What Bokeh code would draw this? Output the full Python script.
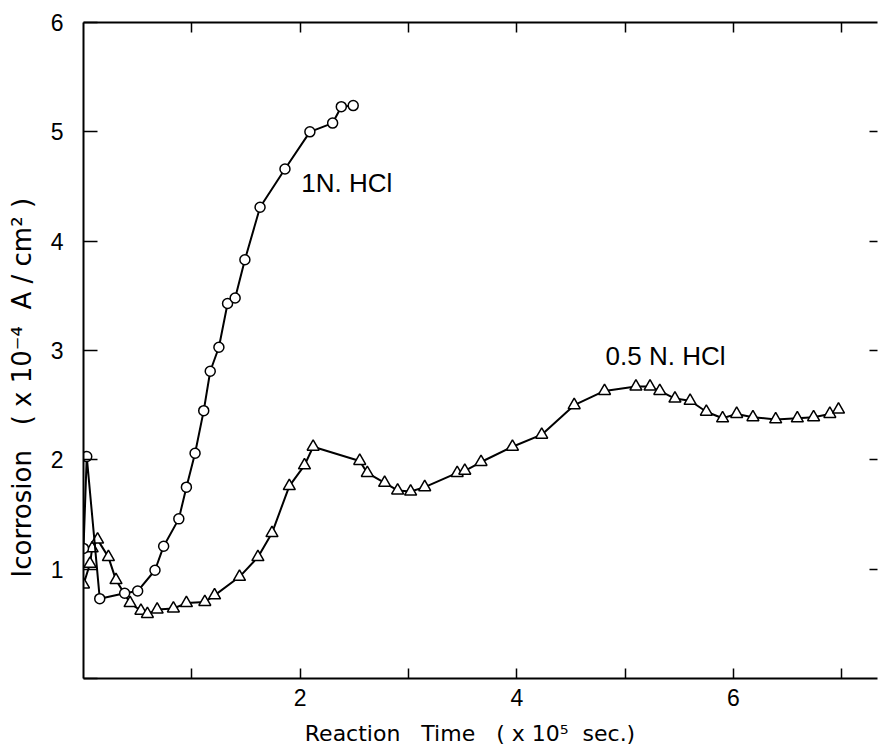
from bokeh.plotting import figure
from bokeh.models import LinearAxis, FixedTicker, Label, Range1d, ColumnDataSource
from bokeh.embed import file_html
from bokeh.resources import INLINE

# 1N. HCl (circles)
time_1n = [0.0, 0.03, 0.15, 0.38, 0.50, 0.66, 0.74, 0.88, 0.95, 1.03, 1.11, 1.17,
           1.25, 1.33, 1.40, 1.49, 1.63, 1.86, 2.09, 2.30, 2.38, 2.49]
icorr_1n = [1.19, 2.03, 0.73, 0.78, 0.80, 0.99, 1.21, 1.46, 1.75, 2.06, 2.45, 2.81,
            3.03, 3.43, 3.48, 3.83, 4.31, 4.66, 5.00, 5.08, 5.23, 5.24]

# 0.5N. HCl (triangles)
time_05n = [0.0, 0.06, 0.08, 0.13, 0.23, 0.30, 0.43, 0.53, 0.59, 0.68, 0.83, 0.95,
            1.12, 1.21, 1.44, 1.61, 1.74, 1.90, 2.04, 2.12, 2.55, 2.62, 2.78, 2.90,
            3.02, 3.15, 3.45, 3.52, 3.67, 3.96, 4.23, 4.53, 4.81, 5.10, 5.23, 5.32,
            5.46, 5.60, 5.75, 5.90, 6.03, 6.18, 6.39, 6.59, 6.74, 6.89, 6.97]
icorr_05n = [0.86, 1.05, 1.19, 1.27, 1.11, 0.90, 0.69, 0.62, 0.59, 0.63, 0.64, 0.69,
             0.70, 0.76, 0.93, 1.11, 1.33, 1.76, 1.95, 2.12, 1.99, 1.88, 1.79, 1.72,
             1.71, 1.75, 1.88, 1.90, 1.98, 2.12, 2.23, 2.50, 2.63, 2.67, 2.67, 2.63,
             2.56, 2.54, 2.44, 2.38, 2.42, 2.39, 2.37, 2.38, 2.39, 2.42, 2.46]

x_ticks = [1, 2, 3, 4, 5, 6, 7]
x_labels = {1: "", 2: "2", 3: "", 4: "4", 5: "", 6: "6", 7: ""}
y_ticks = [0, 1, 2, 3, 4, 5, 6]
y_labels = {0: "", 1: "1", 2: "2", 3: "3", 4: "4", 5: "5", 6: "6"}

FONT = "Liberation Sans"
LFONT = "DejaVu Sans"
SP = "\u00a0"
x_title = ("Reaction" + SP * 3 + "Time" + SP * 3 + "(" + SP + "x" + SP + "10\u2075" + SP * 2
           + "sec.)" + SP * 3)
y_title = ("Icorrosion" + SP * 3 + "(" + SP + "x" + SP + "10\u207b\u2074" + SP * 2 + "A" + SP + "/"
           + SP + "cm\u00b2" + SP + ")" + SP * 9)

p = figure(width=880, height=753, output_backend="svg", toolbar_location=None,
           x_range=Range1d(0, 7.33), y_range=Range1d(0, 6),
           x_axis_location=None, y_axis_location=None,
           min_border_left=83, min_border_right=3, min_border_top=22, min_border_bottom=75)
p.outline_line_color = None
p.xgrid.visible = False
p.ygrid.visible = False
p.background_fill_color = "white"
p.border_fill_color = "white"

def style(ax, tin, labels=True):
    ax.axis_line_width = 2
    ax.axis_line_color = "black"
    ax.major_tick_in = tin
    ax.major_tick_out = 0
    ax.major_tick_line_width = 1.5
    ax.major_tick_line_color = "black"
    ax.minor_tick_line_color = None
    ax.major_label_text_font = FONT
    ax.major_label_text_font_size = "23px"
    ax.major_label_text_color = "black"
    ax.axis_label_text_font = LFONT
    ax.axis_label_text_font_style = "normal"
    ax.axis_label_text_font_size = "22px"
    ax.axis_label_text_color = "black"
    if not labels:
        ax.major_label_text_color = None

xb = LinearAxis(ticker=FixedTicker(ticks=x_ticks), major_label_overrides=x_labels,
                axis_label=x_title)
style(xb, 10)
xb.major_label_standoff = 10
xb.axis_label_standoff = 12
p.add_layout(xb, "below")

yl = LinearAxis(ticker=FixedTicker(ticks=y_ticks), major_label_overrides=y_labels,
                axis_label=y_title)
style(yl, 14)
yl.axis_label_text_font_size = "26px"
yl.major_label_standoff = 20
yl.axis_label_standoff = 11
p.add_layout(yl, "left")

xt = LinearAxis(ticker=FixedTicker(ticks=x_ticks))
style(xt, 10, labels=False)
xt.major_label_standoff = 0
p.add_layout(xt, "above")

yr = LinearAxis(ticker=FixedTicker(ticks=[1, 2, 3, 4, 5]))
style(yr, 8, labels=False)
yr.axis_line_color = None
yr.major_label_standoff = 0
p.add_layout(yr, "right")

s1 = ColumnDataSource(dict(x=time_1n, y=icorr_1n))
s2 = ColumnDataSource(dict(x=time_05n, y=icorr_05n))

p.line("x", "y", source=s2, line_color="black", line_width=2)
p.scatter("x", "y", source=s2, marker="triangle", size=12, fill_color="white",
          line_color="black", line_width=1.5)
p.line("x", "y", source=s1, line_color="black", line_width=2)
p.scatter("x", "y", source=s1, marker="circle", size=10, fill_color="white",
          line_color="black", line_width=1.5)

p.add_layout(Label(x=2.01, y=4.53, text="1N. HCl", text_font=FONT, text_font_size="26px",
                   text_baseline="middle", text_color="black"))
p.add_layout(Label(x=4.82, y=2.95, text="0.5 N. HCl", text_font=FONT, text_font_size="26px",
                   text_baseline="middle", text_color="black"))

open("out.html", "w").write(file_html(p, INLINE))
